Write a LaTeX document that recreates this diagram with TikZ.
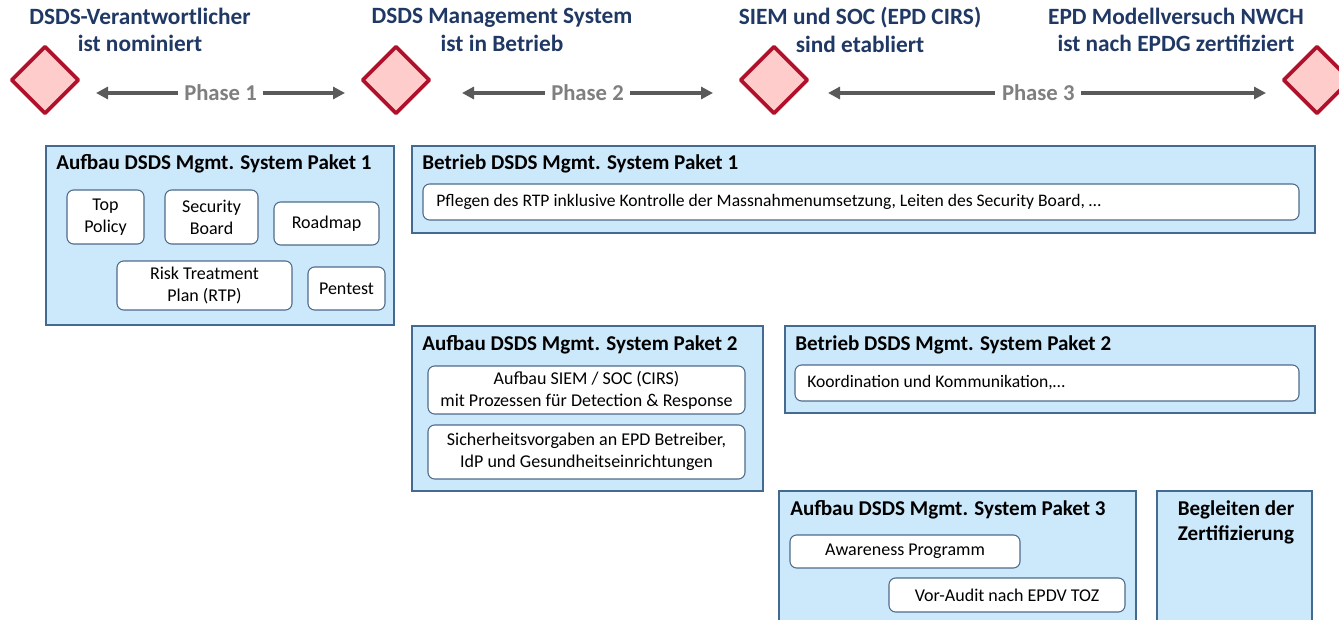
\documentclass[tikz,border=0pt]{standalone}
\usepackage{fontspec}
\setmainfont{Carlito}
\usetikzlibrary{shapes.geometric,fit,arrows.meta}
\definecolor{msred}{HTML}{B0102A}
\definecolor{mspink}{HTML}{FFCCCC}
\definecolor{hdblue}{HTML}{1F3864}
\definecolor{boxfill}{HTML}{CCE8FB}
\definecolor{boxline}{HTML}{456A92}
\definecolor{iline}{HTML}{4F6A8A}
\definecolor{phgray}{HTML}{7F7F7F}
\definecolor{argray}{HTML}{5A5A5A}
\tikzset{
  mstone/.style={diamond, draw=msred, fill=mspink, line width=2.7pt, line join=round, minimum width=51pt, minimum height=51pt, inner sep=0pt},
  headtxt/.style={text=hdblue, font=\fontsize{17.5}{20.5}\selectfont\bfseries, align=center, inner sep=0pt},
  phasearrow/.style={draw=argray, line width=2.5pt, {Triangle[length=9pt,width=9pt]}-{Triangle[length=9pt,width=9pt]}},
  phaselbl/.style={fill=white, text=phgray, font=\fontsize{17}{19}\selectfont\bfseries, inner sep=5pt},
  bigbox/.style={draw=boxline, fill=boxfill, line width=0.9pt, inner sep=0pt},
  boxtitle/.style={anchor=west, text=black, font=\fontsize{15.8}{19}\selectfont\bfseries, inner sep=0pt},
  ibox/.style={draw=iline, fill=white, rounded corners=5pt, line width=0.8pt, inner sep=0pt},
  ctxt/.style={align=center, inner sep=0pt, font=\fontsize{13.5}{16.5}\selectfont},
  itxt/.style={anchor=west, inner sep=0pt, font=\fontsize{13.2}{16}\selectfont}
}
\begin{document}
\begin{tikzpicture}[x=0.75pt,y=-0.75pt]
\useasboundingbox (0,0) rectangle (1339,620);
\clip (0,0) rectangle (1339,620);
% milestones
\node[mstone] (d1) at (45,80) {};
\node[mstone] (d2) at (396,80) {};
\node[mstone] (d3) at (774,80) {};
\node[mstone] (d4) at (1317,80) {};
\node[headtxt] (h1) at (140,30) {DSDS-Verantwortlicher\\ist nominiert};
\node[headtxt] (h2) at (502,30) {DSDS Management System\\ist in Betrieb};
\node[headtxt] (h3) at (860,30) {SIEM und SOC (EPD CIRS)\\sind etabliert};
\node[headtxt] (h4) at (1176,30) {EPD Modellversuch NWCH\\ist nach EPDG zertifiziert};
% phases
\draw[phasearrow] ([shift={(51,13)}]d1.center) -- node[phaselbl] (ph1) {Phase 1} ([shift={(-51,13)}]d2.center);
\draw[phasearrow] ([shift={(66,13)}]d2.center) -- node[phaselbl] (ph2) {Phase 2} ([shift={(-61,13)}]d3.center);
\draw[phasearrow] ([shift={(54,13)}]d3.center) -- node[phaselbl, pos=0.48] (ph3) {Phase 3} ([shift={(-51,13)}]d4.center);
% Aufbau Paket 1
\node[bigbox, fit={(46,146) (394,325)}] (a1) {};
\node[boxtitle] (a1t) at (56,164) {Aufbau DSDS Mgmt. System Paket 1};
\node[ibox, fit={(67,190) (144,244)}] (tp) {};
\node[ctxt] at (tp.center) {Top\\Policy};
\node[ibox, fit={(165,190) (258,244)}] (sb) {};
\node[ctxt] at (sb.center) {Security\\Board};
\node[ibox, fit={(274,202) (379,245)}] (rm) {};
\node[ctxt] at (rm.center) {Roadmap};
\node[ibox, fit={(117,261) (292,310)}] (rtp) {};
\node[ctxt] at (rtp.center) {Risk Treatment\\Plan (RTP)};
\node[ibox, fit={(308,267) (385,310)}] (pt) {};
\node[ctxt] at (pt.center) {Pentest};
% Betrieb Paket 1
\node[bigbox, fit={(412,146) (1315,233)}] (b1) {};
\node[boxtitle] (b1t) at (422,164) {Betrieb DSDS Mgmt. System Paket 1};
\node[ibox, fit={(423,184) (1299,220)}] (b1i) {};
\node[itxt] (b1x) at (436,202) {Pflegen des RTP inklusive Kontrolle der Massnahmenumsetzung, Leiten des Security Board, …};
% Aufbau Paket 2
\node[bigbox, fit={(412,326) (763,491)}] (a2) {};
\node[boxtitle] (a2t) at (422,345) {Aufbau DSDS Mgmt. System Paket 2};
\node[ibox, fit={(428,366) (745,414)}] (siem) {};
\node[ctxt] at (siem.center) {Aufbau SIEM / SOC (CIRS)\\mit Prozessen für Detection \& Response};
\node[ibox, fit={(428,425) (745,479)}] (sv) {};
\node[ctxt] at (sv.center) {Sicherheitsvorgaben an EPD Betreiber,\\IdP und Gesundheitseinrichtungen};
% Betrieb Paket 2
\node[bigbox, fit={(785,326) (1315,413)}] (b2) {};
\node[boxtitle] (b2t) at (795,345) {Betrieb DSDS Mgmt. System Paket 2};
\node[ibox, fit={(795,365) (1299,401)}] (b2i) {};
\node[itxt] (b2x) at (807,383) {Koordination und Kommunikation,…};
% Aufbau Paket 3
\node[bigbox, fit={(779,491) (1136,630)}] (a3) {};
\node[boxtitle] (a3t) at (790,510) {Aufbau DSDS Mgmt. System Paket 3};
\node[ibox, fit={(790,535) (1020,568)}] (aw) {};
\node[ctxt] at (aw.center) {Awareness Programm};
\node[ibox, fit={(889,578) (1125,612)}] (va) {};
\node[ctxt] at (va.center) {Vor-Audit nach EPDV TOZ};
% Begleiten
\node[bigbox, fit={(1157,491) (1312,630)}] (bz) {};
\node[boxtitle, anchor=center, align=center, font=\fontsize{15.8}{18.8}\selectfont\bfseries] (bzt) at (1236,522) {Begleiten der\\Zertifizierung};
\end{tikzpicture}
\end{document}
